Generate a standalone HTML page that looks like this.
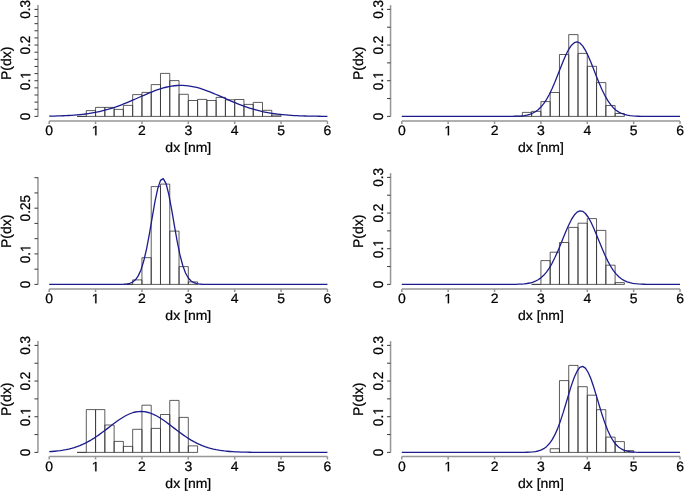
<!DOCTYPE html>
<html><head><meta charset="utf-8"><title>P(dx) histograms</title><style>html,body{margin:0;padding:0;background:#fff;}svg{display:block;will-change:transform;}text{font-family:"Liberation Sans",sans-serif;font-size:14px;fill:#000;text-rendering:geometricPrecision;stroke:#000;stroke-width:0.25px;}</style></head><body>
<svg width="685" height="492" viewBox="0 0 685 492">
<rect width="685" height="492" fill="#fff"/>
<g transform="translate(0,0)">
<path d="M77.02 116.4V116.4H86.3V116.4M86.3 116.4V110.6H95.57V116.4M95.57 116.4V107.4H104.84V116.4M104.84 116.4V107.4H114.12V116.4M114.12 116.4V109.4H123.39V116.4M123.39 116.4V105.4H132.67V116.4M132.67 116.4V94.6H141.94V116.4M141.94 116.4V92.4H151.21V116.4M151.21 116.4V84.6H160.49V116.4M160.49 116.4V73.4H169.76V116.4M169.76 116.4V80.6H179.04V116.4M179.04 116.4V94.3H188.31V116.4M188.31 116.4V100.5H197.58V116.4M197.58 116.4V99.4H206.86V116.4M206.86 116.4V100.5H216.13V116.4M216.13 116.4V97.4H225.41V116.4M225.41 116.4V99.8H234.68V116.4M234.68 116.4V99.5H243.95V116.4M243.95 116.4V104.4H253.23V116.4M253.23 116.4V102.4H262.5V116.4M262.5 116.4V110.3H271.78V116.4M271.78 116.4V115.1H281.05V116.4M77.02 116.4H281.05" fill="none" stroke="#333333" stroke-width="0.8"/>
<polyline points="49.2,116.16 51.98,116.1 54.76,116.04 57.55,115.96 60.33,115.87 63.11,115.76 65.89,115.63 68.68,115.48 71.46,115.31 74.24,115.11 77.02,114.88 79.8,114.62 82.59,114.32 85.37,113.98 88.15,113.6 90.93,113.17 93.72,112.69 96.5,112.17 99.28,111.58 102.06,110.94 104.84,110.24 107.63,109.49 110.41,108.67 113.19,107.79 115.97,106.86 118.75,105.86 121.54,104.82 124.32,103.73 127.1,102.59 129.88,101.42 132.67,100.22 135.45,99 138.23,97.76 141.01,96.53 143.79,95.3 146.58,94.1 149.36,92.92 152.14,91.8 154.92,90.73 157.71,89.73 160.49,88.81 163.27,87.98 166.05,87.25 168.83,86.64 171.62,86.14 174.4,85.76 177.18,85.52 179.96,85.41 182.75,85.43 185.53,85.58 188.31,85.87 191.09,86.29 193.87,86.82 196.66,87.48 199.44,88.24 202.22,89.1 205,90.05 207.79,91.07 210.57,92.16 213.35,93.3 216.13,94.49 218.91,95.7 221.7,96.93 224.48,98.17 227.26,99.4 230.04,100.61 232.83,101.81 235.61,102.97 238.39,104.09 241.17,105.17 243.95,106.19 246.74,107.17 249.52,108.08 252.3,108.94 255.08,109.74 257.87,110.48 260.65,111.16 263.43,111.78 266.21,112.34 268.99,112.86 271.78,113.32 274.56,113.73 277.34,114.1 280.12,114.42 282.9,114.71 285.69,114.96 288.47,115.18 291.25,115.37 294.03,115.53 296.82,115.67 299.6,115.8 302.38,115.9 305.16,115.99 307.94,116.06 310.73,116.12 313.51,116.17 316.29,116.22 319.07,116.25 321.86,116.28 324.64,116.3 327.42,116.32" fill="none" stroke="#1c1c8c" stroke-width="1.3" stroke-linejoin="round"/>
<path d="M49.2 121H327.42M49.2 121V124M95.57 121V124M141.94 121V124M188.31 121V124M234.68 121V124M281.05 121V124M327.42 121V124" stroke="#969696" stroke-width="1.5" fill="none"/>
<text transform="translate(49.2,135.3) scale(1,0.97)" text-anchor="middle">0</text>
<path d="M515 0V1237Q380 1120 197 1010V1180Q390 1290 530 1409H696V0Z" fill="#000" stroke="#000" transform="translate(95.57,135.3) translate(-3.89,0) scale(0.006836,-0.006631)" stroke-width="36.57"/>
<text transform="translate(141.94,135.3) scale(1,0.97)" text-anchor="middle">2</text>
<text transform="translate(188.31,135.3) scale(1,0.97)" text-anchor="middle">3</text>
<text transform="translate(234.68,135.3) scale(1,0.97)" text-anchor="middle">4</text>
<text transform="translate(281.05,135.3) scale(1,0.97)" text-anchor="middle">5</text>
<text transform="translate(327.42,135.3) scale(1,0.97)" text-anchor="middle">6</text>
<text transform="translate(188.31,151.7) scale(1,0.97)" text-anchor="middle">dx [nm]</text>
<path d="M37.95 4.9V116.4" stroke="#969696" stroke-width="1.5" fill="none"/>
<path d="M37.95 116.4H34.45M37.95 109.27H34.45M37.95 102.13H34.45M37.95 95H34.45M37.95 87.86H34.45M37.95 80.73H34.45M37.95 73.6H34.45M37.95 66.46H34.45M37.95 59.33H34.45M37.95 52.19H34.45M37.95 45.06H34.45M37.95 37.93H34.45M37.95 30.79H34.45M37.95 23.66H34.45M37.95 16.52H34.45M37.95 9.39H34.45" stroke="#3a3a3a" stroke-width="1" fill="none"/>
<text transform="translate(30.4,116.4) rotate(-90) scale(0.97,1)" text-anchor="middle">0</text>
<g transform="translate(30.4,80.73) rotate(-90) scale(0.97,1)"><text x="-9.73" y="0">0.</text><path d="M515 0V1237Q380 1120 197 1010V1180Q390 1290 530 1409H696V0Z" fill="#000" stroke="#000" transform="translate(1.94,0) scale(0.006836,-0.006836)" stroke-width="36.57"/></g>
<text transform="translate(30.4,45.06) rotate(-90) scale(0.97,1)" text-anchor="middle">0.2</text>
<text transform="translate(30.4,9.39) rotate(-90) scale(0.97,1)" text-anchor="middle">0.3</text>
<text transform="translate(10.7,63.3) rotate(-90)" text-anchor="middle">P(dx)</text>
</g>
<g transform="translate(352.6,0)">
<path d="M160.49 116.4V116.4H169.76V116.4M169.76 116.4V112.4H179.04V116.4M179.04 116.4V111.4H188.31V116.4M188.31 116.4V101.6H197.58V116.4M197.58 116.4V92.5H206.86V116.4M206.86 116.4V54.5H216.13V116.4M216.13 116.4V34.6H225.41V116.4M225.41 116.4V53.4H234.68V116.4M234.68 116.4V66.3H243.95V116.4M243.95 116.4V82.6H253.23V116.4M253.23 116.4V105.5H262.5V116.4M262.5 116.4V113.5H271.78V116.4M160.49 116.4H271.78" fill="none" stroke="#333333" stroke-width="0.8"/>
<polyline points="49.2,116.4 51.98,116.4 54.76,116.4 57.55,116.4 60.33,116.4 63.11,116.4 65.89,116.4 68.68,116.4 71.46,116.4 74.24,116.4 77.02,116.4 79.8,116.4 82.59,116.4 85.37,116.4 88.15,116.4 90.93,116.4 93.72,116.4 96.5,116.4 99.28,116.4 102.06,116.4 104.84,116.4 107.63,116.4 110.41,116.4 113.19,116.4 115.97,116.4 118.75,116.4 121.54,116.4 124.32,116.4 127.1,116.4 129.88,116.4 132.67,116.4 135.45,116.4 138.23,116.4 141.01,116.4 143.79,116.4 146.58,116.4 149.36,116.39 152.14,116.38 154.92,116.37 157.71,116.34 160.49,116.29 163.27,116.21 166.05,116.08 168.83,115.87 171.62,115.54 174.4,115.04 177.18,114.3 179.96,113.24 182.75,111.75 185.53,109.74 188.31,107.09 191.09,103.7 193.87,99.52 196.66,94.51 199.44,88.71 202.22,82.24 205,75.3 207.79,68.17 210.57,61.21 213.35,54.79 216.13,49.33 218.91,45.19 221.7,42.65 224.48,41.91 227.26,43.02 230.04,45.89 232.83,50.33 235.61,56.01 238.39,62.57 241.17,69.6 243.95,76.72 246.74,83.58 249.52,89.93 252.3,95.57 255.08,100.42 257.87,104.44 260.65,107.67 263.43,110.19 266.21,112.09 268.99,113.48 271.78,114.47 274.56,115.16 277.34,115.62 280.12,115.92 282.9,116.11 285.69,116.23 288.47,116.31 291.25,116.35 294.03,116.37 296.82,116.39 299.6,116.39 302.38,116.4 305.16,116.4 307.94,116.4 310.73,116.4 313.51,116.4 316.29,116.4 319.07,116.4 321.86,116.4 324.64,116.4 327.42,116.4" fill="none" stroke="#1c1c8c" stroke-width="1.3" stroke-linejoin="round"/>
<path d="M49.2 121H327.42M49.2 121V124M95.57 121V124M141.94 121V124M188.31 121V124M234.68 121V124M281.05 121V124M327.42 121V124" stroke="#969696" stroke-width="1.5" fill="none"/>
<text transform="translate(49.2,135.3) scale(1,0.97)" text-anchor="middle">0</text>
<path d="M515 0V1237Q380 1120 197 1010V1180Q390 1290 530 1409H696V0Z" fill="#000" stroke="#000" transform="translate(95.57,135.3) translate(-3.89,0) scale(0.006836,-0.006631)" stroke-width="36.57"/>
<text transform="translate(141.94,135.3) scale(1,0.97)" text-anchor="middle">2</text>
<text transform="translate(188.31,135.3) scale(1,0.97)" text-anchor="middle">3</text>
<text transform="translate(234.68,135.3) scale(1,0.97)" text-anchor="middle">4</text>
<text transform="translate(281.05,135.3) scale(1,0.97)" text-anchor="middle">5</text>
<text transform="translate(327.42,135.3) scale(1,0.97)" text-anchor="middle">6</text>
<text transform="translate(188.31,151.7) scale(1,0.97)" text-anchor="middle">dx [nm]</text>
<path d="M37.95 5.1V116.4" stroke="#969696" stroke-width="1.5" fill="none"/>
<path d="M37.95 116.4H34.45M37.95 98.56H34.45M37.95 80.73H34.45M37.95 62.89H34.45M37.95 45.06H34.45M37.95 27.23H34.45M37.95 9.39H34.45" stroke="#3a3a3a" stroke-width="1" fill="none"/>
<text transform="translate(30.4,116.4) rotate(-90) scale(0.97,1)" text-anchor="middle">0</text>
<g transform="translate(30.4,80.73) rotate(-90) scale(0.97,1)"><text x="-9.73" y="0">0.</text><path d="M515 0V1237Q380 1120 197 1010V1180Q390 1290 530 1409H696V0Z" fill="#000" stroke="#000" transform="translate(1.94,0) scale(0.006836,-0.006836)" stroke-width="36.57"/></g>
<text transform="translate(30.4,45.06) rotate(-90) scale(0.97,1)" text-anchor="middle">0.2</text>
<text transform="translate(30.4,9.39) rotate(-90) scale(0.97,1)" text-anchor="middle">0.3</text>
<text transform="translate(10.7,63.3) rotate(-90)" text-anchor="middle">P(dx)</text>
</g>
<g transform="translate(0,168)">
<path d="M123.39 116.4V116.4H132.67V116.4M132.67 116.4V111.9H141.94V116.4M141.94 116.4V89.7H151.21V116.4M151.21 116.4V18.6H160.49V116.4M160.49 116.4V16.1H169.76V116.4M169.76 116.4V63.1H179.04V116.4M179.04 116.4V98.6H188.31V116.4M188.31 116.4V113.9H197.58V116.4M123.39 116.4H197.58" fill="none" stroke="#333333" stroke-width="0.8"/>
<polyline points="49.2,116.4 51.98,116.4 54.76,116.4 57.55,116.4 60.33,116.4 63.11,116.4 65.89,116.4 68.68,116.4 71.46,116.4 74.24,116.4 77.02,116.4 79.8,116.4 82.59,116.4 85.37,116.4 88.15,116.4 90.93,116.4 93.72,116.4 96.5,116.4 99.28,116.4 102.06,116.4 104.84,116.4 107.63,116.4 110.41,116.4 113.19,116.4 115.97,116.39 118.75,116.37 121.54,116.32 124.32,116.19 127.1,115.9 129.88,115.28 132.67,114.04 135.45,111.77 138.23,107.89 141.01,101.75 143.79,92.8 146.58,80.78 149.36,66.06 152.14,49.79 154.92,33.87 157.71,20.65 160.49,12.39 163.27,10.6 166.05,15.63 168.83,26.53 171.62,41.35 174.4,57.72 177.18,73.43 179.96,86.94 182.75,97.49 185.53,105.03 188.31,110 191.09,113.03 193.87,114.74 196.66,115.63 199.44,116.07 202.22,116.27 205,116.35 207.79,116.38 210.57,116.39 213.35,116.4 216.13,116.4 218.91,116.4 221.7,116.4 224.48,116.4 227.26,116.4 230.04,116.4 232.83,116.4 235.61,116.4 238.39,116.4 241.17,116.4 243.95,116.4 246.74,116.4 249.52,116.4 252.3,116.4 255.08,116.4 257.87,116.4 260.65,116.4 263.43,116.4 266.21,116.4 268.99,116.4 271.78,116.4 274.56,116.4 277.34,116.4 280.12,116.4 282.9,116.4 285.69,116.4 288.47,116.4 291.25,116.4 294.03,116.4 296.82,116.4 299.6,116.4 302.38,116.4 305.16,116.4 307.94,116.4 310.73,116.4 313.51,116.4 316.29,116.4 319.07,116.4 321.86,116.4 324.64,116.4 327.42,116.4" fill="none" stroke="#1c1c8c" stroke-width="1.3" stroke-linejoin="round"/>
<path d="M49.2 121H327.42M49.2 121V124M95.57 121V124M141.94 121V124M188.31 121V124M234.68 121V124M281.05 121V124M327.42 121V124" stroke="#969696" stroke-width="1.5" fill="none"/>
<text transform="translate(49.2,135.3) scale(1,0.97)" text-anchor="middle">0</text>
<path d="M515 0V1237Q380 1120 197 1010V1180Q390 1290 530 1409H696V0Z" fill="#000" stroke="#000" transform="translate(95.57,135.3) translate(-3.89,0) scale(0.006836,-0.006631)" stroke-width="36.57"/>
<text transform="translate(141.94,135.3) scale(1,0.97)" text-anchor="middle">2</text>
<text transform="translate(188.31,135.3) scale(1,0.97)" text-anchor="middle">3</text>
<text transform="translate(234.68,135.3) scale(1,0.97)" text-anchor="middle">4</text>
<text transform="translate(281.05,135.3) scale(1,0.97)" text-anchor="middle">5</text>
<text transform="translate(327.42,135.3) scale(1,0.97)" text-anchor="middle">6</text>
<text transform="translate(188.31,151.7) scale(1,0.97)" text-anchor="middle">dx [nm]</text>
<path d="M37.95 9.3V116.4" stroke="#969696" stroke-width="1.5" fill="none"/>
<path d="M37.95 116.4H34.45M37.95 101.16H34.45M37.95 85.91H34.45M37.95 70.66H34.45M37.95 55.42H34.45M37.95 40.18H34.45M37.95 24.93H34.45M37.95 9.69H34.45" stroke="#3a3a3a" stroke-width="1" fill="none"/>
<text transform="translate(30.4,116.4) rotate(-90) scale(0.97,1)" text-anchor="middle">0</text>
<g transform="translate(30.4,85.91) rotate(-90) scale(0.97,1)"><text x="-9.73" y="0">0.</text><path d="M515 0V1237Q380 1120 197 1010V1180Q390 1290 530 1409H696V0Z" fill="#000" stroke="#000" transform="translate(1.94,0) scale(0.006836,-0.006836)" stroke-width="36.57"/></g>
<text transform="translate(30.4,40.18) rotate(-90) scale(0.97,1)" text-anchor="middle">0.25</text>
<text transform="translate(10.7,63.3) rotate(-90)" text-anchor="middle">P(dx)</text>
</g>
<g transform="translate(352.6,168)">
<path d="M179.04 116.4V116.4H188.31V116.4M188.31 116.4V92.6H197.58V116.4M197.58 116.4V84.2H206.86V116.4M206.86 116.4V74.5H216.13V116.4M216.13 116.4V59.4H225.41V116.4M225.41 116.4V55.2H234.68V116.4M234.68 116.4V50.6H243.95V116.4M243.95 116.4V62.4H253.23V116.4M253.23 116.4V97.2H262.5V116.4M262.5 116.4V114.6H271.78V116.4M179.04 116.4H271.78" fill="none" stroke="#333333" stroke-width="0.8"/>
<polyline points="49.2,116.4 51.98,116.4 54.76,116.4 57.55,116.4 60.33,116.4 63.11,116.4 65.89,116.4 68.68,116.4 71.46,116.4 74.24,116.4 77.02,116.4 79.8,116.4 82.59,116.4 85.37,116.4 88.15,116.4 90.93,116.4 93.72,116.4 96.5,116.4 99.28,116.4 102.06,116.4 104.84,116.4 107.63,116.4 110.41,116.4 113.19,116.4 115.97,116.4 118.75,116.4 121.54,116.4 124.32,116.4 127.1,116.4 129.88,116.4 132.67,116.4 135.45,116.4 138.23,116.4 141.01,116.4 143.79,116.4 146.58,116.4 149.36,116.39 152.14,116.39 154.92,116.38 157.71,116.36 160.49,116.33 163.27,116.28 166.05,116.2 168.83,116.06 171.62,115.85 174.4,115.51 177.18,115.01 179.96,114.28 182.75,113.23 185.53,111.79 188.31,109.85 191.09,107.3 193.87,104.07 196.66,100.08 199.44,95.31 202.22,89.8 205,83.63 207.79,76.98 210.57,70.1 213.35,63.31 216.13,56.96 218.91,51.42 221.7,47.04 224.48,44.12 227.26,42.85 230.04,43.32 232.83,45.5 235.61,49.25 238.39,54.29 241.17,60.32 243.95,66.95 246.74,73.83 249.52,80.62 252.3,87.03 255.08,92.87 257.87,97.99 260.65,102.33 263.43,105.91 266.21,108.76 268.99,110.97 271.78,112.63 274.56,113.84 277.34,114.71 280.12,115.31 282.9,115.71 285.69,115.97 288.47,116.14 291.25,116.25 294.03,116.31 296.82,116.35 299.6,116.37 302.38,116.39 305.16,116.39 307.94,116.4 310.73,116.4 313.51,116.4 316.29,116.4 319.07,116.4 321.86,116.4 324.64,116.4 327.42,116.4" fill="none" stroke="#1c1c8c" stroke-width="1.3" stroke-linejoin="round"/>
<path d="M49.2 121H327.42M49.2 121V124M95.57 121V124M141.94 121V124M188.31 121V124M234.68 121V124M281.05 121V124M327.42 121V124" stroke="#969696" stroke-width="1.5" fill="none"/>
<text transform="translate(49.2,135.3) scale(1,0.97)" text-anchor="middle">0</text>
<path d="M515 0V1237Q380 1120 197 1010V1180Q390 1290 530 1409H696V0Z" fill="#000" stroke="#000" transform="translate(95.57,135.3) translate(-3.89,0) scale(0.006836,-0.006631)" stroke-width="36.57"/>
<text transform="translate(141.94,135.3) scale(1,0.97)" text-anchor="middle">2</text>
<text transform="translate(188.31,135.3) scale(1,0.97)" text-anchor="middle">3</text>
<text transform="translate(234.68,135.3) scale(1,0.97)" text-anchor="middle">4</text>
<text transform="translate(281.05,135.3) scale(1,0.97)" text-anchor="middle">5</text>
<text transform="translate(327.42,135.3) scale(1,0.97)" text-anchor="middle">6</text>
<text transform="translate(188.31,151.7) scale(1,0.97)" text-anchor="middle">dx [nm]</text>
<path d="M37.95 5.1V116.4" stroke="#969696" stroke-width="1.5" fill="none"/>
<path d="M37.95 116.4H34.45M37.95 98.56H34.45M37.95 80.73H34.45M37.95 62.89H34.45M37.95 45.06H34.45M37.95 27.23H34.45M37.95 9.39H34.45" stroke="#3a3a3a" stroke-width="1" fill="none"/>
<text transform="translate(30.4,116.4) rotate(-90) scale(0.97,1)" text-anchor="middle">0</text>
<g transform="translate(30.4,80.73) rotate(-90) scale(0.97,1)"><text x="-9.73" y="0">0.</text><path d="M515 0V1237Q380 1120 197 1010V1180Q390 1290 530 1409H696V0Z" fill="#000" stroke="#000" transform="translate(1.94,0) scale(0.006836,-0.006836)" stroke-width="36.57"/></g>
<text transform="translate(30.4,45.06) rotate(-90) scale(0.97,1)" text-anchor="middle">0.2</text>
<text transform="translate(30.4,9.39) rotate(-90) scale(0.97,1)" text-anchor="middle">0.3</text>
<text transform="translate(10.7,63.3) rotate(-90)" text-anchor="middle">P(dx)</text>
</g>
<g transform="translate(0,336)">
<path d="M77.02 116.4V116.4H86.3V116.4M86.3 116.4V73.6H95.57V116.4M95.57 116.4V73.6H104.84V116.4M104.84 116.4V89H114.12V116.4M114.12 116.4V105.4H123.39V116.4M123.39 116.4V110.4H132.67V116.4M132.67 116.4V93.3H141.94V116.4M141.94 116.4V69.2H151.21V116.4M151.21 116.4V92.4H160.49V116.4M160.49 116.4V78.5H169.76V116.4M169.76 116.4V64.4H179.04V116.4M179.04 116.4V81.4H188.31V116.4M188.31 116.4V109.9H197.58V116.4M77.02 116.4H197.58" fill="none" stroke="#333333" stroke-width="0.8"/>
<polyline points="49.2,115.68 51.98,115.48 54.76,115.24 57.55,114.94 60.33,114.59 63.11,114.16 65.89,113.65 68.68,113.06 71.46,112.36 74.24,111.56 77.02,110.63 79.8,109.59 82.59,108.41 85.37,107.1 88.15,105.65 90.93,104.07 93.72,102.36 96.5,100.53 99.28,98.6 102.06,96.58 104.84,94.49 107.63,92.36 110.41,90.22 113.19,88.1 115.97,86.03 118.75,84.06 121.54,82.21 124.32,80.52 127.1,79.03 129.88,77.76 132.67,76.74 135.45,76 138.23,75.55 141.01,75.4 143.79,75.55 146.58,76.01 149.36,76.75 152.14,77.77 154.92,79.04 157.71,80.53 160.49,82.22 163.27,84.07 166.05,86.05 168.83,88.12 171.62,90.24 174.4,92.38 177.18,94.51 179.96,96.59 182.75,98.61 185.53,100.55 188.31,102.37 191.09,104.08 193.87,105.66 196.66,107.11 199.44,108.42 202.22,109.6 205,110.64 207.79,111.56 210.57,112.37 213.35,113.06 216.13,113.66 218.91,114.17 221.7,114.59 224.48,114.95 227.26,115.24 230.04,115.48 232.83,115.68 235.61,115.84 238.39,115.96 241.17,116.07 243.95,116.14 246.74,116.21 249.52,116.25 252.3,116.29 255.08,116.32 257.87,116.34 260.65,116.36 263.43,116.37 266.21,116.38 268.99,116.38 271.78,116.39 274.56,116.39 277.34,116.39 280.12,116.4 282.9,116.4 285.69,116.4 288.47,116.4 291.25,116.4 294.03,116.4 296.82,116.4 299.6,116.4 302.38,116.4 305.16,116.4 307.94,116.4 310.73,116.4 313.51,116.4 316.29,116.4 319.07,116.4 321.86,116.4 324.64,116.4 327.42,116.4" fill="none" stroke="#1c1c8c" stroke-width="1.3" stroke-linejoin="round"/>
<path d="M49.2 120.5H327.42M49.2 120.5V123.5M95.57 120.5V123.5M141.94 120.5V123.5M188.31 120.5V123.5M234.68 120.5V123.5M281.05 120.5V123.5M327.42 120.5V123.5" stroke="#969696" stroke-width="1.5" fill="none"/>
<text transform="translate(49.2,135.3) scale(1,0.97)" text-anchor="middle">0</text>
<path d="M515 0V1237Q380 1120 197 1010V1180Q390 1290 530 1409H696V0Z" fill="#000" stroke="#000" transform="translate(95.57,135.3) translate(-3.89,0) scale(0.006836,-0.006631)" stroke-width="36.57"/>
<text transform="translate(141.94,135.3) scale(1,0.97)" text-anchor="middle">2</text>
<text transform="translate(188.31,135.3) scale(1,0.97)" text-anchor="middle">3</text>
<text transform="translate(234.68,135.3) scale(1,0.97)" text-anchor="middle">4</text>
<text transform="translate(281.05,135.3) scale(1,0.97)" text-anchor="middle">5</text>
<text transform="translate(327.42,135.3) scale(1,0.97)" text-anchor="middle">6</text>
<text transform="translate(188.31,151.7) scale(1,0.97)" text-anchor="middle">dx [nm]</text>
<path d="M37.95 4.9V116.4" stroke="#969696" stroke-width="1.5" fill="none"/>
<path d="M37.95 116.4H34.45M37.95 98.56H34.45M37.95 80.73H34.45M37.95 62.89H34.45M37.95 45.06H34.45M37.95 27.23H34.45M37.95 9.39H34.45" stroke="#3a3a3a" stroke-width="1" fill="none"/>
<text transform="translate(30.4,116.4) rotate(-90) scale(0.97,1)" text-anchor="middle">0</text>
<g transform="translate(30.4,80.73) rotate(-90) scale(0.97,1)"><text x="-9.73" y="0">0.</text><path d="M515 0V1237Q380 1120 197 1010V1180Q390 1290 530 1409H696V0Z" fill="#000" stroke="#000" transform="translate(1.94,0) scale(0.006836,-0.006836)" stroke-width="36.57"/></g>
<text transform="translate(30.4,45.06) rotate(-90) scale(0.97,1)" text-anchor="middle">0.2</text>
<text transform="translate(30.4,9.39) rotate(-90) scale(0.97,1)" text-anchor="middle">0.3</text>
<text transform="translate(10.7,63.3) rotate(-90)" text-anchor="middle">P(dx)</text>
</g>
<g transform="translate(352.6,336)">
<path d="M197.58 116.4V112.7H206.86V116.4M206.86 116.4V44.6H216.13V116.4M216.13 116.4V29.4H225.41V116.4M225.41 116.4V50.7H234.68V116.4M234.68 116.4V59.2H243.95V116.4M243.95 116.4V73.7H253.23V116.4M253.23 116.4V101.1H262.5V116.4M262.5 116.4V105.6H271.78V116.4M271.78 116.4V114.6H281.05V116.4M197.58 116.4H281.05" fill="none" stroke="#333333" stroke-width="0.8"/>
<polyline points="49.2,116.4 51.98,116.4 54.76,116.4 57.55,116.4 60.33,116.4 63.11,116.4 65.89,116.4 68.68,116.4 71.46,116.4 74.24,116.4 77.02,116.4 79.8,116.4 82.59,116.4 85.37,116.4 88.15,116.4 90.93,116.4 93.72,116.4 96.5,116.4 99.28,116.4 102.06,116.4 104.84,116.4 107.63,116.4 110.41,116.4 113.19,116.4 115.97,116.4 118.75,116.4 121.54,116.4 124.32,116.4 127.1,116.4 129.88,116.4 132.67,116.4 135.45,116.4 138.23,116.4 141.01,116.4 143.79,116.4 146.58,116.4 149.36,116.4 152.14,116.4 154.92,116.4 157.71,116.4 160.49,116.4 163.27,116.39 166.05,116.38 168.83,116.37 171.62,116.33 174.4,116.26 177.18,116.14 179.96,115.93 182.75,115.58 185.53,114.99 188.31,114.08 191.09,112.69 193.87,110.65 196.66,107.79 199.44,103.93 202.22,98.9 205,92.63 207.79,85.16 210.57,76.65 213.35,67.45 216.13,58.06 218.91,49.11 221.7,41.26 224.48,35.2 227.26,31.47 230.04,30.42 232.83,32.15 235.61,36.5 238.39,43.06 241.17,51.24 243.95,60.36 246.74,69.76 249.52,78.83 252.3,87.1 255.08,94.29 257.87,100.25 260.65,104.98 263.43,108.59 266.21,111.23 268.99,113.08 271.78,114.34 274.56,115.16 277.34,115.68 280.12,116 282.9,116.18 285.69,116.28 288.47,116.34 291.25,116.37 294.03,116.39 296.82,116.39 299.6,116.4 302.38,116.4 305.16,116.4 307.94,116.4 310.73,116.4 313.51,116.4 316.29,116.4 319.07,116.4 321.86,116.4 324.64,116.4 327.42,116.4" fill="none" stroke="#1c1c8c" stroke-width="1.3" stroke-linejoin="round"/>
<path d="M49.2 120.5H327.42M49.2 120.5V123.5M95.57 120.5V123.5M141.94 120.5V123.5M188.31 120.5V123.5M234.68 120.5V123.5M281.05 120.5V123.5M327.42 120.5V123.5" stroke="#969696" stroke-width="1.5" fill="none"/>
<text transform="translate(49.2,135.3) scale(1,0.97)" text-anchor="middle">0</text>
<path d="M515 0V1237Q380 1120 197 1010V1180Q390 1290 530 1409H696V0Z" fill="#000" stroke="#000" transform="translate(95.57,135.3) translate(-3.89,0) scale(0.006836,-0.006631)" stroke-width="36.57"/>
<text transform="translate(141.94,135.3) scale(1,0.97)" text-anchor="middle">2</text>
<text transform="translate(188.31,135.3) scale(1,0.97)" text-anchor="middle">3</text>
<text transform="translate(234.68,135.3) scale(1,0.97)" text-anchor="middle">4</text>
<text transform="translate(281.05,135.3) scale(1,0.97)" text-anchor="middle">5</text>
<text transform="translate(327.42,135.3) scale(1,0.97)" text-anchor="middle">6</text>
<text transform="translate(188.31,151.7) scale(1,0.97)" text-anchor="middle">dx [nm]</text>
<path d="M37.95 5.1V116.4" stroke="#969696" stroke-width="1.5" fill="none"/>
<path d="M37.95 116.4H34.45M37.95 98.56H34.45M37.95 80.73H34.45M37.95 62.89H34.45M37.95 45.06H34.45M37.95 27.23H34.45M37.95 9.39H34.45" stroke="#3a3a3a" stroke-width="1" fill="none"/>
<text transform="translate(30.4,116.4) rotate(-90) scale(0.97,1)" text-anchor="middle">0</text>
<g transform="translate(30.4,80.73) rotate(-90) scale(0.97,1)"><text x="-9.73" y="0">0.</text><path d="M515 0V1237Q380 1120 197 1010V1180Q390 1290 530 1409H696V0Z" fill="#000" stroke="#000" transform="translate(1.94,0) scale(0.006836,-0.006836)" stroke-width="36.57"/></g>
<text transform="translate(30.4,45.06) rotate(-90) scale(0.97,1)" text-anchor="middle">0.2</text>
<text transform="translate(30.4,9.39) rotate(-90) scale(0.97,1)" text-anchor="middle">0.3</text>
<text transform="translate(10.7,63.3) rotate(-90)" text-anchor="middle">P(dx)</text>
</g>
</svg></body></html>
